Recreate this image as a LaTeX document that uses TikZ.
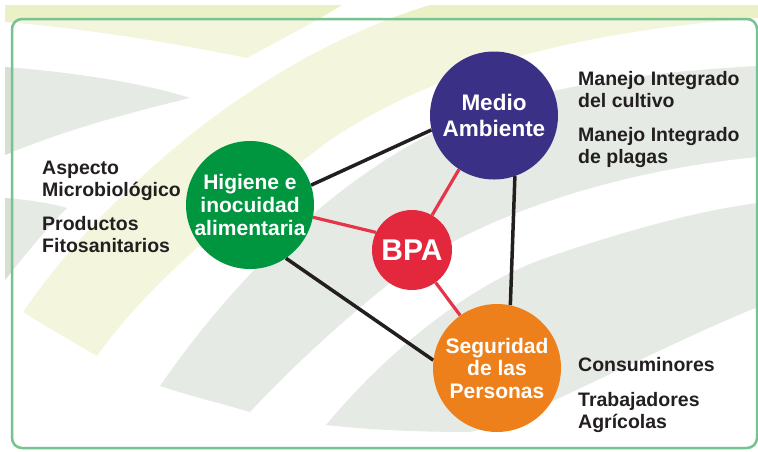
\documentclass[tikz,border=0pt]{standalone}
\usepackage{fontspec}
\setmainfont{Liberation Sans}
\definecolor{medio}{RGB}{58,49,134}
\definecolor{higiene}{RGB}{0,150,64}
\definecolor{bpa}{RGB}{227,40,62}
\definecolor{seguridad}{RGB}{238,128,27}
\definecolor{linkblack}{RGB}{35,31,32}
\definecolor{linkred}{RGB}{230,52,75}
\definecolor{bgyellow}{RGB}{236,240,198}
\definecolor{bggrey}{RGB}{213,223,210}
\definecolor{framegreen}{RGB}{118,195,145}
\definecolor{labeltext}{RGB}{35,31,32}
\pgfdeclarelayer{back}
\pgfdeclarelayer{mid}
\pgfsetlayers{back,mid,main}
\tikzset{
  bubble/.style={circle, inner sep=0pt, minimum size=128pt, text=white, align=center,
    font=\fontsize{21}{23}\selectfont\bfseries},
  lbl/.style={anchor=base west, align=left, inner sep=0pt, text=labeltext,
    font=\fontsize{19.5}{21.5}\selectfont\bfseries},
  blackline/.style={draw=linkblack, line width=3.5pt},
  redline/.style={draw=linkred, line width=3.2pt},
}
\begin{document}
\begin{tikzpicture}[x=1pt,y=-1pt]
\useasboundingbox (0,0) rectangle (758,451);
\begin{pgfonlayer}{back}
\fill[white] (0,0) rectangle (758,451);
\begin{scope}
  \clip (5,5) rectangle (758,451);
  % yellow wedge top-left
  \fill[bgyellow] (5,5) -- (342,5) .. controls (310,25) and (275,42) .. (247,58)
    .. controls (170,42) and (80,28) .. (5,22) -- cycle;
  % grey pieces on the left
  \fill[bggrey] (5,67) .. controls (70,72) and (140,82) .. (190,98)
    .. controls (120,115) and (60,132) .. (5,155) -- cycle;
  \fill[bggrey] (5,198) .. controls (30,200) and (50,203) .. (67,208)
    .. controls (45,230) and (25,255) .. (5,280) -- cycle;
  % big yellow ribbon
  \fill[bgyellow] (23,312) .. controls (100,200) and (250,60) .. (430,5) -- (758,5) -- (758,18)
    .. controls (600,30) and (450,60) .. (330,140)
    .. controls (250,200) and (150,280) .. (97,356)
    .. controls (70,340) and (45,326) .. (23,312) -- cycle;
  % grey ribbon middle
  \fill[bggrey] (160,386) .. controls (240,270) and (360,150) .. (500,105)
    .. controls (580,80) and (680,70) .. (758,66) -- (758,157)
    .. controls (620,170) and (480,215) .. (400,275)
    .. controls (330,330) and (280,380) .. (250,412)
    .. controls (220,403) and (190,396) .. (160,386) -- cycle;
  % grey ribbon lower right
  \fill[bggrey] (326,425) .. controls (380,360) and (460,290) .. (540,260)
    .. controls (620,232) and (700,210) .. (758,203) -- (758,307)
    .. controls (700,330) and (620,370) .. (540,407)
    .. controls (510,420) and (490,428) .. (470,432)
    .. controls (420,432) and (370,430) .. (326,425) -- cycle;
\end{scope}
\fill[white, fill opacity=0.4, rounded corners=10pt] (12,19) rectangle (757,448);
\draw[framegreen, line width=2.5pt, rounded corners=10pt] (12,19) rectangle (757,448);
\end{pgfonlayer}

\node[bubble, fill=medio, font=\fontsize{22.5}{26}\selectfont\bfseries] (medio) at (494,115.5) {Medio\\Ambiente};
\node[bubble, fill=higiene] (higiene) at (250,205) {Higiene e\\inocuidad\\alimentaria};
\node[bubble, fill=seguridad, font=\fontsize{21}{22.5}\selectfont\bfseries] (seguridad) at (497,368) {Seguridad\\de las\\Personas};
\node[bubble, fill=bpa, minimum size=80pt, font=\fontsize{30}{32}\selectfont\bfseries] (bpa) at (412,250) {BPA};

\begin{pgfonlayer}{mid}
\draw[blackline] (higiene.18) -- (medio.193);
\draw[blackline] (higiene.-56.7) -- (seguridad.173);
\draw[blackline] (medio.-71.6) -- (seguridad.78.7);
\draw[redline] (higiene.-11.9) -- (bpa.154);
\draw[redline] (bpa.60) -- (medio.237.6);
\draw[redline] (bpa.-54) -- (seguridad.125.4);
\end{pgfonlayer}

\node[lbl] (aspecto) at (42,196) {Aspecto\\Microbiológico};
\node[lbl] (productos) at (42,252) {Productos\\Fitosanitarios};
\node[lbl] (manejo1) at (578,107) {Manejo Integrado\\del cultivo};
\node[lbl] (manejo2) at (578,163) {Manejo Integrado\\de plagas};
\node[lbl] (consum) at (578,371) {Consuminores};
\node[lbl] (trab) at (578,428) {Trabajadores\\Agrícolas};
\end{tikzpicture}
\end{document}
